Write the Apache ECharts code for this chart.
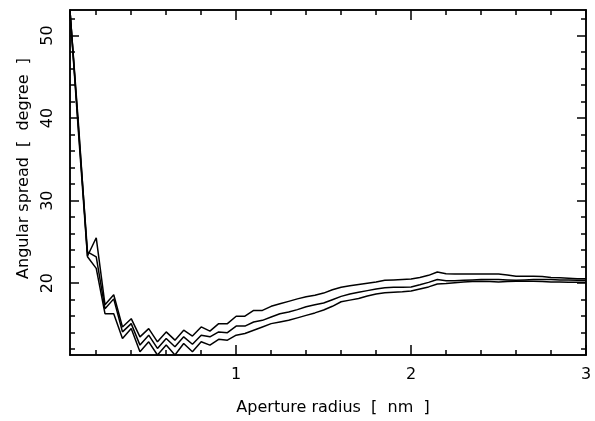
<!DOCTYPE html>
<html>
<head>
<meta charset="utf-8">
<script src="https://cdn.jsdelivr.net/npm/echarts@6/dist/echarts.min.js"></script>
<style>
  html, body { margin: 0; padding: 0; background: #fff; }
  #chart { width: 595px; height: 421px; }
</style>
</head>
<body>
<div id="chart"></div>
<script>
// aperture radius [nm]
var radius = [0.05, 0.10, 0.15, 0.20, 0.25, 0.30, 0.35, 0.40, 0.45, 0.50,
  0.55, 0.60, 0.65, 0.70, 0.75, 0.80, 0.85, 0.90, 0.95, 1.00,
  1.05, 1.10, 1.15, 1.20, 1.25, 1.30, 1.35, 1.40, 1.45, 1.50,
  1.55, 1.60, 1.65, 1.70, 1.75, 1.80, 1.85, 1.90, 1.95, 2.00,
  2.05, 2.10, 2.15, 2.20, 2.25, 2.30, 2.35, 2.40, 2.45, 2.50,
  2.55, 2.60, 2.65, 2.70, 2.75, 2.80, 2.85, 2.90, 2.95, 3.00];

// angular spread [degree], upper / middle / lower curve
var spreadTop = [53.0, 38.8, 23.3, 25.5, 17.4, 18.6, 14.7, 15.7, 13.5, 14.5,
  12.9, 14.1, 13.1, 14.3, 13.6, 14.7, 14.2, 15.1, 15.1, 16.0,
  16.0, 16.7, 16.7, 17.2, 17.5, 17.8, 18.1, 18.35, 18.55, 18.8,
  19.2, 19.5, 19.7, 19.85, 20.0, 20.15, 20.35, 20.4, 20.45, 20.5,
  20.7, 20.95, 21.35, 21.15, 21.1, 21.1, 21.1, 21.1, 21.1, 21.1,
  21.0, 20.85, 20.85, 20.85, 20.8, 20.7, 20.65, 20.6, 20.55, 20.55];
var spreadMid = [53.0, 38.3, 23.8, 23.2, 16.9, 18.1, 14.1, 15.1, 12.5, 13.7,
  12.1, 13.3, 12.3, 13.5, 12.6, 13.7, 13.5, 14.1, 14.0, 14.8,
  14.8, 15.3, 15.5, 15.9, 16.3, 16.5, 16.8, 17.15, 17.4, 17.6,
  18.0, 18.4, 18.7, 18.9, 19.1, 19.3, 19.45, 19.5, 19.5, 19.55,
  19.8, 20.1, 20.45, 20.3, 20.3, 20.35, 20.4, 20.45, 20.45, 20.45,
  20.4, 20.35, 20.4, 20.45, 20.45, 20.45, 20.4, 20.4, 20.35, 20.35];
var spreadLow = [53.0, 37.8, 23.2, 21.8, 16.3, 16.3, 13.3, 14.5, 11.7, 12.9,
  11.3, 12.5, 11.3, 12.7, 11.7, 12.9, 12.5, 13.2, 13.1, 13.7,
  13.9, 14.3, 14.7, 15.1, 15.3, 15.5, 15.8, 16.1, 16.4, 16.75,
  17.2, 17.75, 17.95, 18.15, 18.45, 18.7, 18.85, 18.9, 18.95, 19.05,
  19.3, 19.55, 19.9, 19.95, 20.05, 20.15, 20.2, 20.25, 20.2, 20.15,
  20.2, 20.25, 20.25, 20.25, 20.2, 20.15, 20.15, 20.1, 20.1, 20.1];

var xMajor = [1, 2, 3];
var xMinor = [0.2, 0.4, 0.6, 0.8, 1.2, 1.4, 1.6, 1.8, 2.2, 2.4, 2.6, 2.8];
var yMajor = [20, 30, 40, 50];
var yMinor = [12, 14, 16, 18, 22, 24, 26, 28, 32, 34, 36, 38, 42, 44, 46, 48, 52];

var X_MIN = 0.05, X_MAX = 3, Y_MIN = 11.3, Y_MAX = 53.1;
var FONT = 'DejaVu Sans';

function pairs(ys) {
  return radius.map(function (r, i) { return [r, ys[i]]; });
}

function xAx(pos, ticks, len, withLabel) {
  return {
    type: 'value', position: pos, min: X_MIN, max: X_MAX,
    axisLine: { show: true, onZero: false, lineStyle: { color: '#000', width: 1.5 } },
    axisTick: { show: true, inside: true, length: len, customValues: ticks,
      lineStyle: { color: '#000', width: 1.5 } },
    axisLabel: withLabel ? { show: true, customValues: ticks, color: '#000',
      fontFamily: FONT, fontSize: 16, margin: 12, formatter: '{value}' } : { show: false },
    splitLine: { show: false },
    name: withLabel ? 'Aperture radius  [  nm  ]' : '',
    nameLocation: 'middle', nameGap: 45,
    nameTextStyle: { color: '#000', fontFamily: FONT, fontSize: 16, padding: [0, 0, 0, 10] }
  };
}

function yAx(pos, ticks, len, withLabel) {
  return {
    type: 'value', position: pos, min: Y_MIN, max: Y_MAX,
    axisLine: { show: true, onZero: false, lineStyle: { color: '#000', width: 1.5 } },
    axisTick: { show: true, inside: true, length: len, customValues: ticks,
      lineStyle: { color: '#000', width: 1.5 } },
    axisLabel: withLabel ? { show: true, customValues: ticks, color: '#000', rotate: 90,
      fontFamily: FONT, fontSize: 16, margin: 14 } : { show: false },
    splitLine: { show: false },
    name: withLabel ? 'Angular spread  [  degree  ]' : '',
    nameLocation: 'middle', nameGap: 36,
    nameTextStyle: { color: '#000', fontFamily: FONT, fontSize: 16, padding: [0, 0, 0, 28] }
  };
}

function curve(ys) {
  return {
    type: 'line', data: pairs(ys), showSymbol: false, silent: true,
    xAxisIndex: 0, yAxisIndex: 0,
    lineStyle: { color: '#000', width: 1.5 }
  };
}

var myChart = echarts.init(document.getElementById('chart'), null, { renderer: 'canvas' });
var option = {
  animation: false,
  backgroundColor: '#fff',
  grid: { left: 70, right: 9, top: 10, bottom: 66 },
  xAxis: [
    xAx('bottom', xMajor, 10, true),
    xAx('bottom', xMinor, 5, false),
    xAx('top', xMajor, 10, false),
    xAx('top', xMinor, 5, false)
  ],
  yAxis: [
    yAx('left', yMajor, 9, true),
    yAx('left', yMinor, 5, false),
    yAx('right', yMajor, 9, false),
    yAx('right', yMinor, 5, false)
  ],
  series: [curve(spreadTop), curve(spreadMid), curve(spreadLow)]
};
myChart.setOption(option, true);
</script>
</body>
</html>
